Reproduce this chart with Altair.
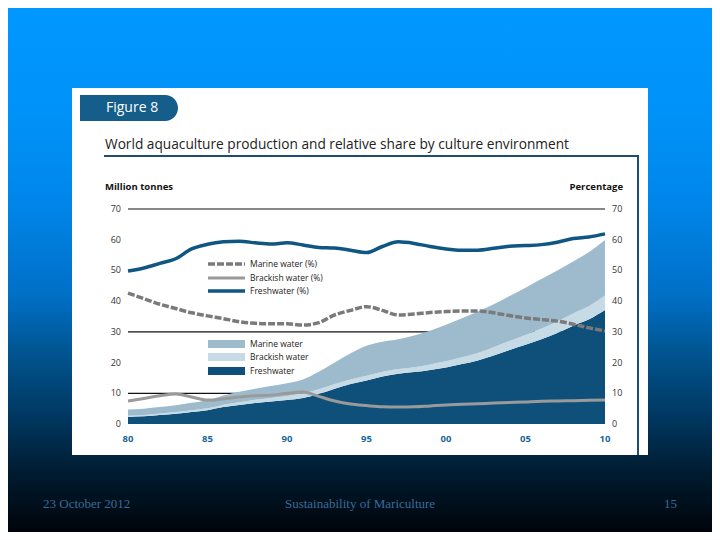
import altair as alt
import pandas as pd

years = list(range(1980, 2011))

# Million tonnes by culture environment
freshwater_mt = [2.3, 2.5, 2.9, 3.3, 3.9, 4.5, 5.5, 6.2, 6.8, 7.3, 7.8, 8.5, 9.8, 11.5, 13.0,
                 14.2, 15.5, 16.4, 16.9, 17.6, 18.4, 19.5, 20.7, 22.3, 24.1, 25.8, 27.6, 29.6,
                 32.0, 34.1, 37.1]
brackish_mt = [0.4, 0.4, 0.5, 0.6, 0.6, 0.6, 0.8, 0.9, 1.1, 1.2, 1.3, 1.5, 1.5, 1.5, 1.5,
               1.5, 1.5, 1.5, 1.6, 1.8, 2.0, 2.2, 2.4, 2.7, 2.9, 3.2, 3.5, 3.8, 4.0, 4.3, 4.7]
marine_mt = [2.0, 2.1, 2.1, 2.2, 2.4, 2.6, 3.0, 3.4, 3.6, 3.9, 4.2, 4.5, 5.7, 7.0, 8.5,
             9.8, 9.8, 9.7, 10.3, 11.0, 11.9, 12.7, 13.5, 14.0, 14.7, 15.4, 16.1, 16.6, 16.9,
             17.6, 18.1]

# Relative shares (%)
freshwater_pct = [49.8, 50.8, 52.3, 53.8, 57.0, 58.5, 59.3, 59.5, 59.0, 58.6, 59.0, 58.3, 57.5,
                  57.3, 56.6, 55.8, 57.8, 59.3, 58.8, 57.8, 57.0, 56.6, 56.6, 57.2, 57.9, 58.1,
                  58.4, 59.2, 60.4, 60.9, 61.9]
marine_pct = [42.6, 40.8, 39.0, 37.6, 36.2, 35.2, 34.3, 33.3, 32.8, 32.6, 32.6, 32.2, 33.0, 35.5,
              37.0, 38.2, 37.0, 35.5, 35.8, 36.3, 36.6, 36.8, 36.8, 36.2, 35.3, 34.5, 34.0, 33.5,
              32.5, 31.3, 30.3]
brackish_pct = [7.5, 8.3, 9.2, 9.8, 8.8, 7.8, 8.2, 8.8, 9.2, 9.4, 10.0, 10.4, 9.0, 7.5, 6.5,
                6.0, 5.6, 5.5, 5.6, 5.9, 6.2, 6.4, 6.6, 6.8, 7.0, 7.2, 7.4, 7.5, 7.6, 7.7, 7.8]

env_names = ["Freshwater", "Brackish water", "Marine water"]
env_colors = ["#0e5079", "#c6dbe6", "#9dbbcd"]

y_ticks = [0, 10, 20, 30, 40, 50, 60, 70]
grid_values = [10, 30, 70]
x_tick_years = [1980, 1985, 1990, 1995, 2000, 2005, 2010]
x_tick_labels = ["80", "85", "90", "95", "00", "05", "10"]

rows = []
for i, yr in enumerate(years):
    for k, (name, vals) in enumerate(zip(env_names, [freshwater_mt, brackish_mt, marine_mt])):
        rows.append({"year": yr, "env": name, "tonnes": vals[i], "ord": k})
area_df = pd.DataFrame(rows)

fresh_df = pd.DataFrame({"year": years, "pct": freshwater_pct})
marine_df = pd.DataFrame({"year": years, "pct": marine_pct})
brack_df = pd.DataFrame({"year": years, "pct": brackish_pct})
ytick_df = pd.DataFrame({"v": y_ticks, "lab": [str(v) for v in y_ticks]})
grid_df = pd.DataFrame({"v": grid_values})
xtick_df = pd.DataFrame({"year": x_tick_years, "lab": x_tick_labels})
one = pd.DataFrame({"k": [0]})

xs = alt.Scale(domain=[1980, 2010], range=[120, 597], nice=False, zero=False)
ys = alt.Scale(domain=[0, 70], range=[416, 201], nice=False, zero=False)

FONT = "Open Sans"

bg = alt.Chart(one).mark_rect(
    color=alt.LinearGradient(
        gradient="linear", x1=0, x2=0, y1=0, y2=1,
        stops=[
            alt.GradientStop(color="#0098ff", offset=0),
            alt.GradientStop(color="#0092f8", offset=0.2),
            alt.GradientStop(color="#0086ea", offset=0.37),
            alt.GradientStop(color="#006fc6", offset=0.55),
            alt.GradientStop(color="#00548f", offset=0.66),
            alt.GradientStop(color="#003a65", offset=0.77),
            alt.GradientStop(color="#001d33", offset=0.88),
            alt.GradientStop(color="#00040a", offset=1.0),
        ],
    )
).encode(x=alt.value(0), x2=alt.value(704), y=alt.value(0), y2=alt.value(524))

panel = alt.Chart(one).mark_rect(color="white").encode(
    x=alt.value(64), x2=alt.value(640), y=alt.value(80), y2=alt.value(447))

tab = alt.Chart(one).mark_rect(color="#155d8a", cornerRadiusTopRight=13,
                               cornerRadiusBottomRight=13).encode(
    x=alt.value(72), x2=alt.value(170), y=alt.value(87), y2=alt.value(113))
tab_text = alt.Chart(one).mark_text(text="Figure 8", color="white", font=FONT, fontSize=14,
                                    align="left", baseline="middle").encode(
    x=alt.value(98), y=alt.value(100))

title = alt.Chart(one).mark_text(
    text="World aquaculture production and relative share by culture environment",
    color="#222222", font=FONT, fontSize=13.7, align="left", baseline="middle").encode(
    x=alt.value(97), y=alt.value(137))
title_rule = alt.Chart(one).mark_rule(color="#1d4e72", strokeWidth=2).encode(
    x=alt.value(96), x2=alt.value(631), y=alt.value(148))
side_rule = alt.Chart(one).mark_rule(color="#1d4e72", strokeWidth=2).encode(
    x=alt.value(630), y=alt.value(148), y2=alt.value(447))

left_title = alt.Chart(one).mark_text(text="Million tonnes", color="#111111", font=FONT,
                                      fontSize=9.5, fontWeight="bold", align="left",
                                      baseline="middle").encode(x=alt.value(97), y=alt.value(179))
right_title = alt.Chart(one).mark_text(text="Percentage", color="#111111", font=FONT,
                                       fontSize=9.5, fontWeight="bold", align="right",
                                       baseline="middle").encode(x=alt.value(615), y=alt.value(179))

grid = alt.Chart(grid_df).mark_rule(color="#111111", strokeWidth=1.2).encode(
    y=alt.Y("v:Q", scale=ys, axis=None), x=alt.value(120), x2=alt.value(597))

areas = alt.Chart(area_df).mark_area(interpolate="monotone").encode(
    x=alt.X("year:Q", scale=xs, axis=None),
    y=alt.Y("tonnes:Q", stack="zero", scale=ys, axis=None),
    color=alt.Color("env:N", scale=alt.Scale(domain=env_names, range=env_colors), legend=None),
    order=alt.Order("ord:Q"),
)

brack_line = alt.Chart(brack_df).mark_line(color="#9a9a9a", strokeWidth=3,
                                           interpolate="monotone").encode(
    x=alt.X("year:Q", scale=xs, axis=None), y=alt.Y("pct:Q", scale=ys, axis=None))
marine_line = alt.Chart(marine_df).mark_line(color="#7a7a7a", strokeWidth=3.5,
                                             strokeDash=[7, 2], interpolate="monotone").encode(
    x=alt.X("year:Q", scale=xs, axis=None), y=alt.Y("pct:Q", scale=ys, axis=None))
fresh_line = alt.Chart(fresh_df).mark_line(color="#0f5683", strokeWidth=3.5,
                                           interpolate="monotone").encode(
    x=alt.X("year:Q", scale=xs, axis=None), y=alt.Y("pct:Q", scale=ys, axis=None))

ylab_left = alt.Chart(ytick_df).mark_text(color="#333333", font=FONT, fontSize=9,
                                          align="right", baseline="middle").encode(
    y=alt.Y("v:Q", scale=ys, axis=None), x=alt.value(113), text="lab:N")
ylab_right = alt.Chart(ytick_df).mark_text(color="#333333", font=FONT, fontSize=9,
                                           align="left", baseline="middle").encode(
    y=alt.Y("v:Q", scale=ys, axis=None), x=alt.value(604), text="lab:N")
xlab = alt.Chart(xtick_df).mark_text(color="#1b6596", font=FONT, fontSize=9.5, fontWeight="bold",
                                     align="center", baseline="middle").encode(
    x=alt.X("year:Q", scale=xs, axis=None), y=alt.value(431), text="lab:N")

# Legends (lines)
LEG_X0, LEG_X1, LEG_TX = 200, 237, 242
leg_marine = alt.Chart(one).mark_rule(color="#7a7a7a", strokeWidth=3.5, strokeDash=[7, 2]).encode(
    x=alt.value(LEG_X0), x2=alt.value(LEG_X1), y=alt.value(256))
leg_brack = alt.Chart(one).mark_rule(color="#9a9a9a", strokeWidth=3).encode(
    x=alt.value(LEG_X0), x2=alt.value(LEG_X1), y=alt.value(270))
leg_fresh = alt.Chart(one).mark_rule(color="#0f5683", strokeWidth=3.5).encode(
    x=alt.value(LEG_X0), x2=alt.value(LEG_X1), y=alt.value(283))


def leg_text(t, y):
    return alt.Chart(one).mark_text(text=t, color="#222222", font=FONT, fontSize=8.5,
                                    align="left", baseline="middle").encode(
        x=alt.value(LEG_TX), y=alt.value(y))


def leg_box(c, y):
    return alt.Chart(one).mark_rect(color=c).encode(
        x=alt.value(LEG_X0), x2=alt.value(LEG_X1), y=alt.value(y - 4), y2=alt.value(y + 4))


legend_layers = [
    leg_marine, leg_brack, leg_fresh,
    leg_text("Marine water (%)", 256), leg_text("Brackish water (%)", 270),
    leg_text("Freshwater (%)", 283),
    leg_box(env_colors[2], 336), leg_box(env_colors[1], 349), leg_box(env_colors[0], 363),
    leg_text("Marine water", 336), leg_text("Brackish water", 349), leg_text("Freshwater", 363),
]

SERIF = "Liberation Serif"
foot_col = "#3a6c98"
foot1 = alt.Chart(one).mark_text(text="23 October 2012", color=foot_col, font=SERIF, fontSize=13,
                                 align="left", baseline="middle").encode(x=alt.value(35), y=alt.value(496))
foot2 = alt.Chart(one).mark_text(text="Sustainability of Mariculture", color=foot_col, font=SERIF,
                                 fontSize=13, align="center", baseline="middle").encode(
    x=alt.value(352), y=alt.value(496))
foot3 = alt.Chart(one).mark_text(text="15", color=foot_col, font=SERIF, fontSize=13,
                                 align="right", baseline="middle").encode(x=alt.value(669), y=alt.value(496))

chart = alt.layer(
    bg, panel, tab, tab_text, title, title_rule, side_rule, left_title, right_title,
    grid, areas, brack_line, marine_line, fresh_line,
    ylab_left, ylab_right, xlab, *legend_layers, foot1, foot2, foot3,
).properties(
    width=704, height=524, padding=0, autosize="none"
).configure_view(stroke=None)

chart.save("out.html", embed_options={"renderer": "svg", "actions": False})
